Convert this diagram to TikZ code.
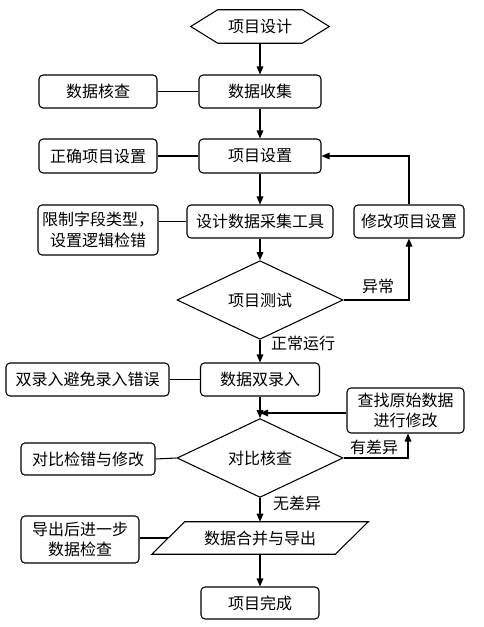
\documentclass[tikz,border=0pt]{standalone}
\usepackage{fontspec}
\newfontfamily\cjk{Noto Sans CJK SC}
\usetikzlibrary{shapes.geometric,arrows.meta,calc}
\begin{document}
\begin{tikzpicture}[x=0.75pt,y=-0.75pt,
  every node/.style={font=\cjk\fontsize{12}{15.5}\selectfont, inner sep=0pt, align=center},
  box/.style={draw, rounded corners=3pt, line width=0.8pt},
  sz/.style 2 args={minimum width=#1*0.75pt, minimum height=#2*0.75pt},
  dia/.style={draw, diamond, line width=0.8pt},
  lbl/.style={anchor=center},
  arr/.style={-{Triangle[length=6pt,width=5pt]}, line width=0.8pt},
  ln/.style={line width=0.8pt}]
\useasboundingbox (0,0) rectangle (484,627);
% main column
\node (top) [sz={84}{33}] at (260,26.5) {项目设计};
\draw[ln] (top.north west) -- (top.north east) -- ($(top.east)+(27,0)$) -- (top.south east) -- (top.south west) -- ($(top.west)+(-27,0)$) -- cycle;
\node (collect) [box, sz={122}{33}] at (260,91.5) {数据收集};
\node (check) [box, sz={118}{33}] at (98,91.5) {数据核查};
\node (setup) [box, sz={122}{34}] at (260,156) {项目设置};
\node (correct) [box, sz={118}{34}] at (98,156) {正确项目设置};
\node (tool) [box, sz={146}{33}] at (260,221.5) {设计数据采集工具};
\node (limit) [box, sz={120}{50}] at (98,230) {限制字段类型，\\设置逻辑检错};
\node (modify) [box, sz={110}{33}] at (409,221.5) {修改项目设置};
\node (test) [dia, sz={166}{60}] at (260,300) {项目测试};
\node (double) [box, sz={119}{33}] at (260,379.5) {数据双录入};
\node (avoid) [box, sz={163}{33}] at (87.5,379.5) {双录入避免录入错误};
\node (find) [box, sz={117}{45}] at (405.5,410.5) {查找原始数据\\进行修改};
\node (compare) [dia, sz={166}{60}] at (260,458) {对比核查};
\node (cmpfix) [box, sz={134}{32}] at (88,459) {对比检错与修改};
\node (merge) [sz={183}{32}] at (260,538) {数据合并与导出};
\draw[ln] ($(merge.south west)+(-16.5,0)$) -- ($(merge.north west)+(16.5,0)$) -- ($(merge.north east)+(16.5,0)$) -- ($(merge.south east)+(-16.5,0)$) -- cycle;
\node (export) [box, sz={118}{47}] at (80,539.5) {导出后进一步\\数据检查};
\node (done) [box, sz={118}{32}] at (260,603) {项目完成};
% labels
\node (l1) [lbl] at (378,286) {异常};
\node (l2) [lbl] at (303,343) {正常运行};
\node (l3) [lbl] at (374,447) {有差异};
\node (l4) [lbl] at (297,503) {无差异};
% connectors
\draw[arr] (top.south) -- (collect.north);
\draw[ln] (check.east) -- (collect.west);
\draw[arr] (collect.south) -- (setup.north);
\draw[ln] (correct.east) -- (setup.west);
\draw[arr] (setup.south) -- (tool.north);
\draw[ln] (limit.east |- tool.west) -- (tool.west);
\draw[arr] (tool.south) -- (test.north);
\draw[arr] (test.east) -| (modify.south);
\draw[arr] (modify.north) |- (setup.east);
\draw[arr] (test.south) -- (double.north);
\draw[ln] (avoid.east) -- (double.west);
\draw[arr] (double.south) -- (compare.north);
\draw[arr] ($(find.west)+(0,2.5)$) -- ($(find.west -| double.south)+(0,2.5)$);
\draw[arr] (compare.east) -| ($(find.south)+(2.5,0)$);
\draw[ln] (cmpfix.east) -- (compare.west);
\draw[arr] (compare.south) -- (merge.north);
\draw[ln] (export.east |- merge.west) -- (merge.west);
\draw[arr] (merge.south) -- (done.north);
\end{tikzpicture}
\end{document}
